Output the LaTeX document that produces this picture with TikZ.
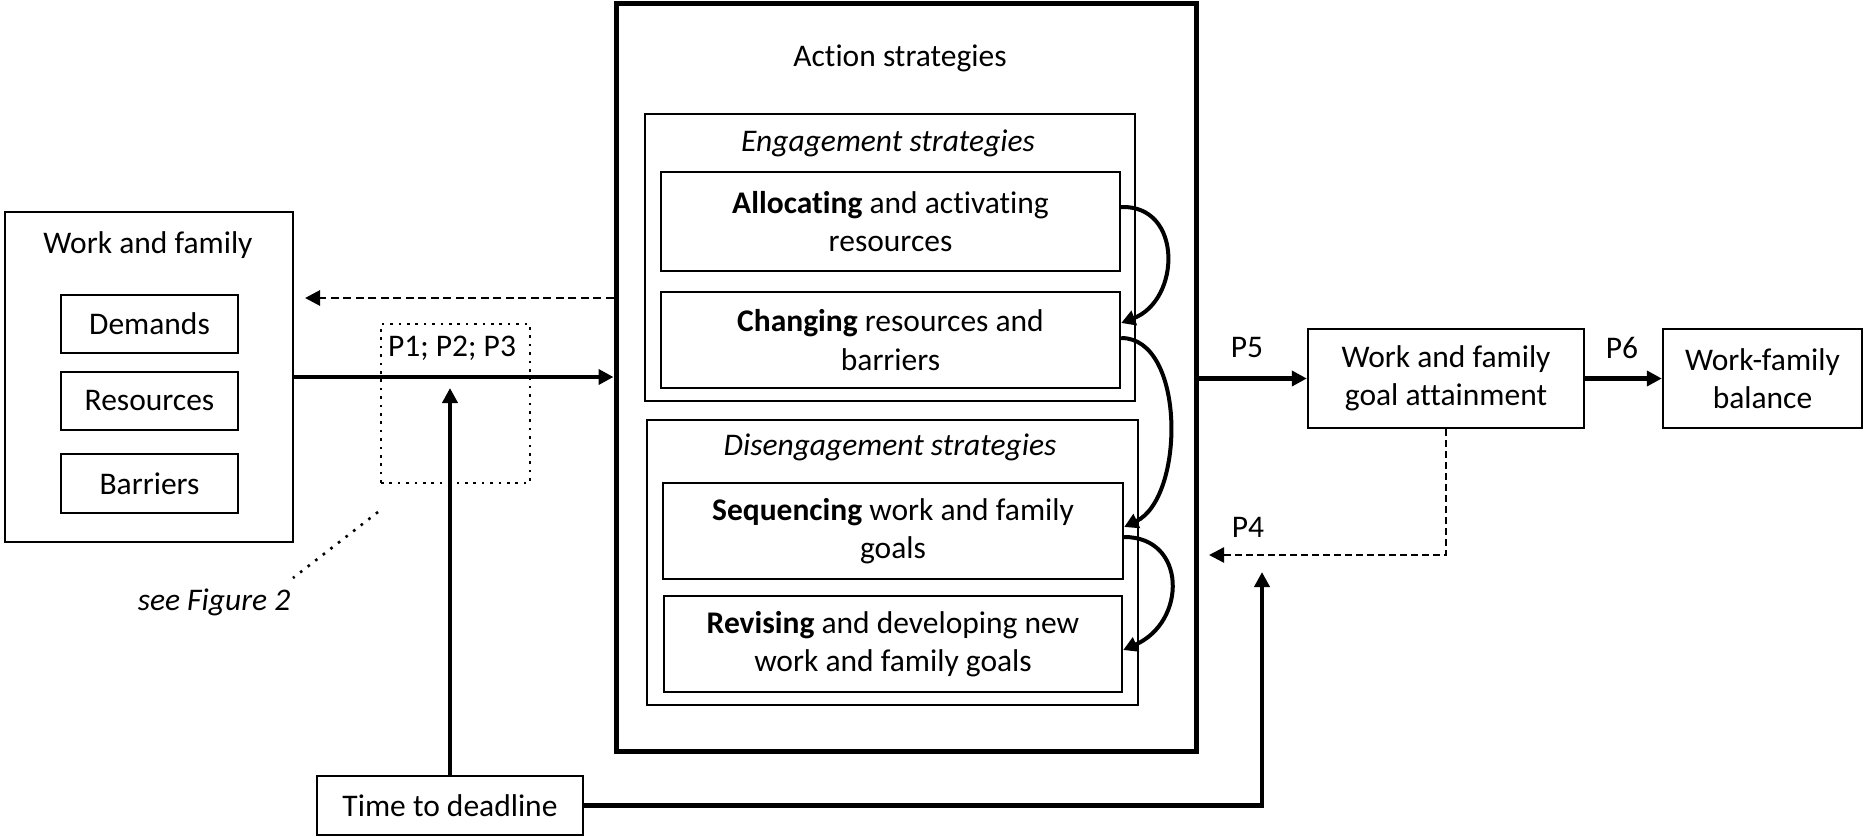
\documentclass[tikz,border=0pt]{standalone}
\usepackage{fontspec}
\setmainfont{Carlito}[Ligatures=NoCommon]
\usetikzlibrary{arrows.meta}
\newcommand\fsz{\fontsize{31.5}{38.5}\selectfont}
\tikzset{
  box/.style={draw, line width=2.4pt, inner sep=0pt, align=center, font=\fsz},
  lbl/.style={inner sep=0pt, align=center, font=\fsz},
  bigbox/.style={draw, line width=5pt, inner sep=0pt},
  arr/.style={line width=4.5pt, -{Triangle[length=15pt,width=15pt]}},
  curv/.style={line width=4pt, -{Triangle[length=14pt,width=15pt]}},
  darr/.style={line width=2.8pt, dash pattern=on 8pt off 4.5pt, -{Triangle[length=15pt,width=15pt]}},
  tdarr/.style={line width=2.4pt, dash pattern=on 7pt off 4pt, -{Triangle[length=15pt,width=15pt]}},
  dotbx/.style={draw, line width=2.6pt, dash pattern=on 2.6pt off 5.8pt, inner sep=0pt},
}
\begin{document}
\begin{tikzpicture}[x=1pt,y=-1pt]
\useasboundingbox (0,0) rectangle (1865,837);
% left block
\node[box, minimum width=288pt, minimum height=330pt] (wf) at (149,377) {};
\node[lbl] (wft) at (148,245) {Work and family};
\node[box, minimum width=177pt, minimum height=58pt] (dem) at (149.5,324) {Demands};
\node[box, minimum width=177pt, minimum height=58pt] (res) at (149.5,401) {Resources};
\node[box, minimum width=177pt, minimum height=59pt] (bar) at (149.5,483.5) {Barriers};
% big box
\node[bigbox, minimum width=580pt, minimum height=748pt] (big) at (906,377.5) {};
\node[lbl] (act) at (900,58) {Action strategies};
\node[box, minimum width=490pt, minimum height=287pt] (eng) at (890,257.5) {};
\node[lbl, font=\fsz\itshape] (engt) at (888,143) {Engagement strategies};
\node[box, minimum width=459pt, minimum height=99pt] (alloc) at (890.5,221.5) {\textbf{Allocating} and activating\\resources};
\node[box, minimum width=459pt, minimum height=96pt] (chg) at (890.5,340) {\textbf{Changing} resources and\\barriers};
\node[box, minimum width=491pt, minimum height=285pt] (dis) at (892.5,562.5) {};
\node[lbl, font=\fsz\itshape] (dist) at (890,447) {Disengagement strategies};
\node[box, minimum width=460pt, minimum height=96pt] (seq) at (893,531) {\textbf{Sequencing} work and family\\goals};
\node[box, minimum width=458pt, minimum height=96pt] (rev) at (893,644) {\textbf{Revising} and developing new\\work and family goals};
% right boxes
\node[box, minimum width=276pt, minimum height=99pt] (goal) at (1446,378.5) {Work and family\\goal attainment};
\node[box, minimum width=199pt, minimum height=99pt] (bal) at (1762.5,378.5) {Work-family\\balance};
% time
\node[box, minimum width=266pt, minimum height=59pt] (time) at (450,805.5) {Time to deadline};
% dotted box
\node[dotbx, minimum width=149pt, minimum height=159pt] (dotb) at (455.5,403.5) {};
\node[lbl] (p123) at (452,348) {P1; P2; P3};
\coordinate (dl1) at (378,512);
\coordinate (dl2) at (293,578);
\draw[line width=2.6pt, dash pattern=on 2.6pt off 7pt] (dl1) -- (dl2);
\node[lbl, font=\fsz\itshape] (seefig) at (214,602) {see Figure 2};
% labels
\node[lbl] (p5) at (1247,348) {P5};
\node[lbl] (p6) at (1622,348) {P6};
\node[lbl] (p4) at (1248,527) {P4};
% connectors
\coordinate (dtip) at (305,298);
\draw[darr] (big.west |- dtip) -- (dtip);
\draw[arr] (wf.east) -- (wf.east -| big.west);
\coordinate (ttip) at (450,388);
\draw[arr] (time.north) -- (ttip);
\coordinate (t2) at (1262,572);
\draw[arr] (time.east) -| (t2);
\draw[arr] (big.east |- goal.west) -- (goal.west);
\draw[arr] (goal.east) -- (bal.west);
\coordinate (p4tip) at (1209,555);
\draw[tdarr] (goal.south) |- (p4tip);
% curved arrows
\draw[curv] ([yshift=14.5pt]alloc.east) .. controls (1183,205) and (1181,300) .. ([yshift=17pt]chg.east);
\draw[curv] ([yshift=2pt]chg.east) .. controls (1186,338) and (1185,498) .. ([yshift=4pt]seq.east);
\draw[curv] ([yshift=-6pt]seq.east) .. controls (1187,537) and (1187,622) .. ([yshift=-6pt]rev.east);
\end{tikzpicture}
\end{document}
